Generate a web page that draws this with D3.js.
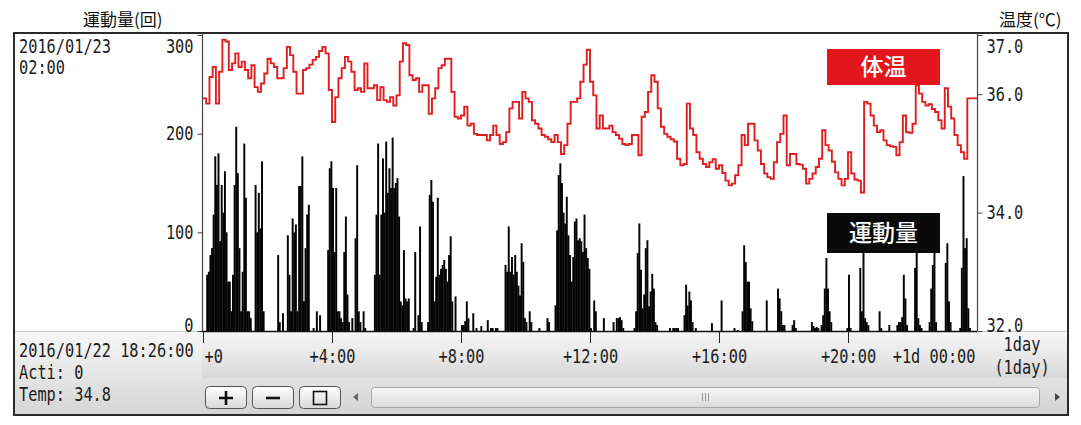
<!DOCTYPE html>
<html>
<head>
<meta charset="utf-8">
<script src="https://cdn.jsdelivr.net/npm/d3@7"></script>
<style>
  body { margin: 0; background: #fff; }
</style>
</head>
<body>
<svg id="chart" width="1081" height="425"></svg>
<script>
// activity counts, one bar per 3 minutes (20 per hour)
const barMinutes = 3;
const activity = [
  0,0,57,60,77,84,118,177,148,180,91,148,120,162,100,50,50,20,57,148,      // +0h
  207,160,84,20,60,190,135,20,20,13,0,0,148,100,140,104,172,20,0,0,
  0,0,0,0,0,0,77,9,0,18,0,0,97,57,20,114,100,108,20,147,
  147,177,30,84,118,128,0,0,3,0,20,0,16,0,0,0,0,82,165,172,
  145,80,145,20,20,13,9,80,116,37,9,0,13,0,94,168,20,9,0,20,              // +4h
  3,0,0,0,0,0,57,118,190,57,118,175,120,192,140,165,145,196,145,150,
  155,116,30,26,82,33,30,33,0,0,3,80,0,16,106,9,0,0,0,9,
  138,153,131,30,55,135,57,63,67,72,63,50,77,96,30,0,35,0,0,0,
  6,6,10,30,13,0,0,18,0,3,0,0,5,0,0,0,11,0,3,3,                          // +8h
  0,3,3,0,0,0,0,67,60,106,60,75,57,77,60,46,36,89,70,13,
  9,0,20,9,0,0,0,0,3,0,0,0,0,13,9,0,0,0,26,102,
  158,170,150,120,109,136,97,77,50,75,111,114,92,94,91,80,118,84,74,63,
  3,0,31,20,0,0,0,0,13,0,0,0,0,0,9,0,13,13,14,11,                        // +12h
  3,0,0,0,0,0,0,3,20,79,109,62,23,37,84,92,25,40,58,43,
  9,6,0,0,0,0,0,0,0,3,0,3,3,3,3,0,0,0,16,47,
  26,40,31,9,0,3,0,0,0,0,0,0,0,0,0,8,0,0,0,0,
  0,31,0,0,0,0,0,0,0,3,0,1,0,0,20,87,70,50,50,23,                        // +16h
  10,0,0,0,0,0,0,0,0,31,0,0,0,0,0,0,43,33,20,6,
  6,0,0,0,0,6,11,3,0,0,0,0,0,0,0,0,0,9,5,3,
  4,3,0,6,16,43,74,43,20,9,0,0,0,0,0,0,0,0,0,3,
  57,3,0,0,0,0,0,64,20,79,13,9,6,0,0,0,0,0,0,20,                         // +20h
  3,0,0,0,0,6,0,0,0,0,6,9,9,14,57,33,6,0,0,0,
  0,64,79,13,6,3,0,0,0,0,9,43,67,79,9,0,0,0,0,0,
  69,89,30,9,0,0,0,0,0,3,64,157,84,94,23,3,0,0,0,0
];

// body temperature, one value per 6 minutes (10 per hour)
const tempMinutes = 6;
const temperature = [
  35.93,35.84,36.29,36.46,35.84,36.38,36.92,36.89,36.41,36.52,
  36.69,36.46,36.55,36.41,36.27,36.49,36.12,36.04,36.18,36.35,
  36.60,36.52,36.46,36.27,36.27,36.44,36.80,36.66,36.38,36.01,
  36.01,36.41,36.44,36.50,36.58,36.63,36.73,36.80,36.69,36.07,
  35.53,35.95,36.27,36.44,36.63,36.55,36.38,36.07,36.10,36.04,
  36.52,36.10,36.10,36.15,35.90,36.12,35.90,35.87,35.95,35.81,
  35.98,36.55,36.86,36.83,36.32,36.24,36.27,36.04,36.15,36.15,
  35.67,35.93,36.10,36.44,36.49,36.60,36.60,36.04,35.62,35.59,
  35.64,35.79,35.47,35.50,35.33,35.31,35.31,35.31,35.22,35.31,
  35.47,35.31,35.16,35.19,35.36,35.76,35.87,35.87,35.59,36.04,
  35.93,35.87,35.56,35.50,35.42,35.31,35.28,35.24,35.19,35.31,
  35.19,34.99,35.14,35.50,35.87,35.87,35.93,36.21,36.50,36.75,
  36.21,35.98,35.42,35.64,35.42,35.42,35.47,35.36,35.31,35.25,
  35.16,35.14,35.16,35.31,35.31,34.97,35.62,35.70,36.04,36.32,
  36.21,35.76,35.45,35.33,35.28,35.24,35.20,34.91,34.80,34.82,
  35.84,35.42,35.31,35.02,34.91,34.82,34.77,34.85,34.90,34.74,
  34.80,34.67,34.54,34.46,34.49,34.63,34.80,35.31,35.14,35.50,
  35.50,35.22,35.05,34.82,34.66,34.60,34.57,34.85,35.19,35.33,
  35.64,34.80,34.99,34.99,34.82,34.81,34.74,34.49,34.57,34.66,
  34.77,34.91,35.39,35.14,35.05,34.86,34.68,34.57,34.46,34.57,
  35.02,34.66,34.56,34.54,34.34,35.87,35.84,35.64,35.47,35.36,
  35.39,35.22,35.14,35.12,35.11,34.97,35.19,35.64,35.36,35.35,
  35.50,36.15,36.01,35.87,35.81,35.83,35.75,35.70,35.56,35.42,
  36.10,35.79,35.59,35.31,35.14,35.02,34.91,35.93,35.93,35.93
];

const actTicks = [0, 100, 200, 300];
const tempTicks = [32, 34, 36, 37];
const timeTicks = [0, 240, 480, 720, 960, 1200, 1440];
const timeLabels = ["+0", "+4:00", "+8:00", "+12:00", "+16:00", "+20:00", "+1d 00:00"];
const infoTop = ["2016/01/23", "02:00"];
const infoBottom = ["2016/01/22 18:26:00", "Acti: 0", "Temp: 34.8"];

const MONO = "'DejaVu Sans Mono', 'Liberation Mono', monospace";
const CJK = "'Noto Sans CJK JP', 'Noto Sans', sans-serif";
const MONO_SIZE = 19;
const CHAR_W = 9.2;
const SX = CHAR_W / (0.602 * MONO_SIZE);   // squeeze the mono font to the narrow look

const svg = d3.select("#chart");
const plot = { left: 203, right: 977, top: 35, bottom: 331 };
const frame = { left: 14, top: 33, right: 1068, bottom: 415 };

const x = d3.scaleLinear().domain([0, 1440]).range([plot.left, plot.right]);
const yAct = d3.scaleLinear().domain([0, 300]).range([plot.bottom, plot.top]);
const yTemp = d3.scaleLinear().domain([32, 37]).range([plot.bottom, plot.top]);

function monoText(parent, px, py, str, anchor) {
  return parent.append("text")
    .attr("transform", `translate(${px},${py}) scale(${SX},1)`)
    .attr("text-anchor", anchor || "start")
    .attr("font-family", MONO)
    .attr("font-size", MONO_SIZE)
    .attr("fill", "#1c1c1c")
    .text(str);
}

function styleTicks(sel, offX) {
  sel.each(function (d) {
    const t = d3.select(this);
    const ox = offX(d);
    const oy = +t.attr("y") || 0;
    t.attr("x", null).attr("y", null)
      .attr("transform", `translate(${ox},${oy}) scale(${SX},1)`)
      .attr("font-family", MONO).attr("font-size", MONO_SIZE).attr("fill", "#1c1c1c");
  });
}

// gradients for the panels
const defs = svg.append("defs");
function vGrad(id, c0, c1) {
  const g = defs.append("linearGradient").attr("id", id)
    .attr("x1", 0).attr("y1", 0).attr("x2", 0).attr("y2", 1);
  g.append("stop").attr("offset", "0%").attr("stop-color", c0);
  g.append("stop").attr("offset", "100%").attr("stop-color", c1);
}
vGrad("gLeft", "#f6f6f6", "#d6d6d6");
vGrad("gAxis", "#f8f8f8", "#d8d8d8");
vGrad("gBar", "#e2e2e2", "#d4d4d4");
vGrad("gBtn", "#ffffff", "#d8d8d8");
vGrad("gThumb", "#f7f7f7", "#dadada");

defs.append("clipPath").attr("id", "plotClip")
  .append("rect").attr("x", plot.left).attr("y", frame.top)
  .attr("width", plot.right - plot.left).attr("height", plot.bottom - frame.top);

svg.append("rect").attr("width", 1081).attr("height", 425).attr("fill", "#fff");

// bottom panels
svg.append("rect").attr("x", frame.left).attr("y", plot.bottom)
  .attr("width", plot.left - frame.left).attr("height", frame.bottom - plot.bottom)
  .attr("fill", "url(#gLeft)");
svg.append("rect").attr("x", plot.left - 1).attr("y", plot.bottom)
  .attr("width", frame.right - plot.left + 1).attr("height", 47)
  .attr("fill", "url(#gAxis)");
svg.append("rect").attr("x", plot.left - 1).attr("y", 378)
  .attr("width", frame.right - plot.left + 1).attr("height", frame.bottom - 378)
  .attr("fill", "url(#gBar)");
svg.append("line").attr("x1", frame.left).attr("x2", frame.right)
  .attr("y1", plot.bottom + 0.5).attr("y2", plot.bottom + 0.5)
  .attr("stroke", "#c8c8c8");

// activity bars
const bw = x(barMinutes) - x(0);
svg.append("g").attr("clip-path", "url(#plotClip)")
  .selectAll("rect").data(activity).join("rect")
  .attr("x", (d, i) => x(i * barMinutes))
  .attr("width", bw + 0.35)
  .attr("y", d => yAct(d))
  .attr("height", d => yAct(0) - yAct(d))
  .attr("fill", "#050505");

// temperature step line
const tempPts = temperature.map((v, i) => [i * tempMinutes, v]);
tempPts.push([1440, temperature[temperature.length - 1]]);
svg.append("path").datum(tempPts)
  .attr("clip-path", "url(#plotClip)")
  .attr("fill", "none")
  .attr("stroke", "#e01e1e")
  .attr("stroke-width", 1.9)
  .attr("d", d3.line().x(d => x(d[0])).y(d => yTemp(d[1])).curve(d3.curveStepAfter));

// left axis
const gl = svg.append("g").attr("transform", `translate(${plot.left - 0.5},0)`)
  .call(d3.axisLeft(yAct).tickValues(actTicks).tickSize(5).tickSizeOuter(0).tickPadding(4));
gl.select(".domain").remove();
gl.selectAll(".tick line").attr("stroke", "#444");
gl.selectAll(".tick text").attr("y", d => d === 300 ? 11 : d === 0 ? -6 : 0);
styleTicks(gl.selectAll(".tick text"), () => -9);

// right axis
const gr = svg.append("g").attr("transform", `translate(${plot.right + 0.5},0)`)
  .call(d3.axisRight(yTemp).tickValues(tempTicks).tickFormat(d3.format(".1f"))
    .tickSize(5).tickSizeOuter(0).tickPadding(4));
gr.select(".domain").remove();
gr.selectAll(".tick line").attr("stroke", "#444");
gr.selectAll(".tick text").attr("y", d => d === 37 ? 11 : d === 32 ? -6 : 0);
styleTicks(gr.selectAll(".tick text"), () => 9);

// axis lines
svg.append("line").attr("x1", plot.left - 0.5).attr("x2", plot.left - 0.5)
  .attr("y1", frame.top).attr("y2", plot.bottom).attr("stroke", "#444").attr("stroke-width", 1.2);
svg.append("line").attr("x1", plot.right + 0.5).attr("x2", plot.right + 0.5)
  .attr("y1", frame.top).attr("y2", plot.bottom).attr("stroke", "#444").attr("stroke-width", 1.2);

// bottom time axis
const gb = svg.append("g").attr("transform", `translate(0,${plot.bottom})`)
  .call(d3.axisBottom(x).tickValues(timeTicks).tickSize(12).tickSizeOuter(0).tickPadding(7)
    .tickFormat((d, i) => timeLabels[i]));
gb.select(".domain").attr("stroke", "#111").attr("stroke-width", 1.4)
  .attr("d", `M${plot.left - 1},0.5H${plot.right}`);
gb.selectAll(".tick line").attr("stroke", "#222");
gb.selectAll(".tick text")
  .attr("y", 19)
  .attr("text-anchor", d => d === 0 ? "start" : d === 1440 ? "end" : "middle");
styleTicks(gb.selectAll(".tick text"), d => d === 0 ? 1 : d === 1440 ? -2 : 0);
gb.selectAll(".tick").filter(d => d === 1440).select("line").remove();

monoText(svg, 1022, 351, "1day", "middle");
monoText(svg, 1022, 374, "(1day)", "middle");

// info texts
monoText(svg, 19, 53, infoTop[0]);
monoText(svg, 19, 74, infoTop[1]);
infoBottom.forEach((s, i) => monoText(svg, 19, 357 + i * 22, s));

// axis titles
svg.append("text").attr("x", 83).attr("y", 26)
  .attr("font-family", CJK).attr("font-size", 17).attr("fill", "#111")
  .text("運動量(回)");
svg.append("text").attr("x", 999).attr("y", 26)
  .attr("font-family", CJK).attr("font-size", 17).attr("fill", "#111")
  .text("温度(℃)");

// legend boxes
const legends = [
  { label: "体温", color: "#e3161d", y: 49, h: 36 },
  { label: "運動量", color: "#0a0a0a", y: 213, h: 40 }
];
legends.forEach(l => {
  svg.append("rect").attr("x", 827).attr("y", l.y).attr("width", 113).attr("height", l.h)
    .attr("fill", l.color);
  svg.append("text").attr("x", 883.5).attr("y", l.y + l.h / 2 + 8)
    .attr("text-anchor", "middle")
    .attr("font-family", CJK).attr("font-size", 23).attr("font-weight", 500).attr("fill", "#fff")
    .text(l.label);
});

// zoom buttons
const buttons = [205, 252, 299];
buttons.forEach((bx, i) => {
  svg.append("rect").attr("x", bx + 0.5).attr("y", 386.5).attr("width", 41).attr("height", 22)
    .attr("rx", 4).attr("fill", "url(#gBtn)").attr("stroke", "#555");
  const cx = bx + 21, cy = 398;
  if (i === 0) {
    svg.append("path").attr("d", `M${cx - 7},${cy}H${cx + 7}M${cx},${cy - 7}V${cy + 7}`)
      .attr("stroke", "#111").attr("stroke-width", 2.6);
  } else if (i === 1) {
    svg.append("path").attr("d", `M${cx - 7},${cy}H${cx + 7}`)
      .attr("stroke", "#111").attr("stroke-width", 2.6);
  } else {
    svg.append("rect").attr("x", cx - 6.5).attr("y", cy - 6.5).attr("width", 13).attr("height", 13)
      .attr("fill", "none").attr("stroke", "#111").attr("stroke-width", 1.6);
  }
});

// scrollbar
svg.append("path").attr("d", "M353,397L358,393L358,401Z").attr("fill", "#666");
svg.append("path").attr("d", "M1060,397L1055,393L1055,401Z").attr("fill", "#444");
svg.append("rect").attr("x", 371.5).attr("y", 387.5).attr("width", 668).attr("height", 20)
  .attr("rx", 3).attr("fill", "url(#gThumb)").attr("stroke", "#a8a8a8");
[702, 705, 708].forEach(gx => {
  svg.append("line").attr("x1", gx + 0.5).attr("x2", gx + 0.5).attr("y1", 393).attr("y2", 401)
    .attr("stroke", "#999");
});

// outer frame
svg.append("rect").attr("x", frame.left).attr("y", frame.top)
  .attr("width", frame.right - frame.left).attr("height", frame.bottom - frame.top)
  .attr("fill", "none").attr("stroke", "#2a2a2a").attr("stroke-width", 2);
</script>
</body>
</html>
